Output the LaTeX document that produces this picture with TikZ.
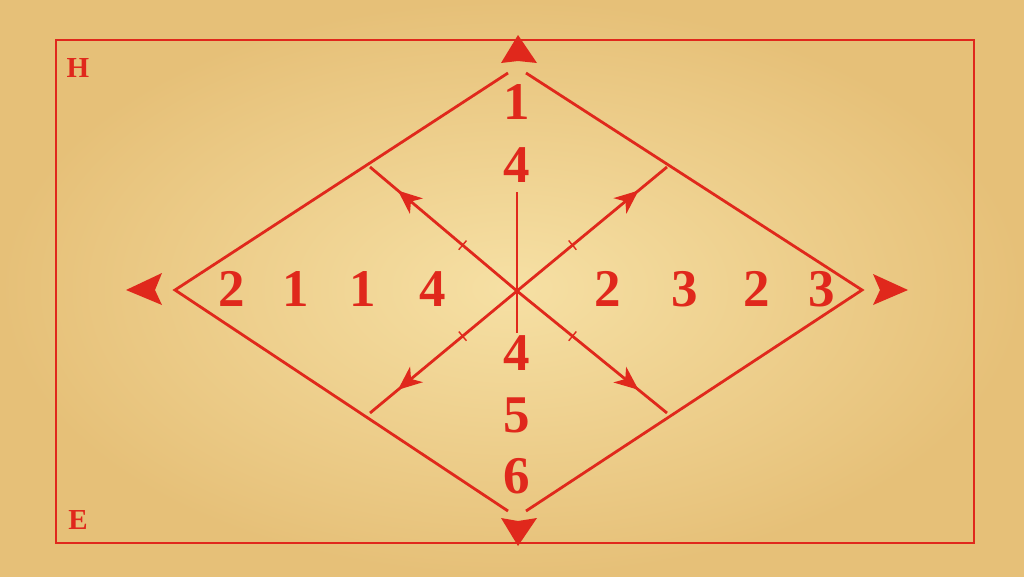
\documentclass[tikz,border=0pt]{standalone}
\usepackage{fontspec}
\setmainfont{Liberation Serif}
\usetikzlibrary{arrows.meta,decorations.markings}
\definecolor{ink}{RGB}{224,40,28}
\definecolor{paper}{RGB}{246,224,164}
\definecolor{paperedge}{RGB}{230,192,120}

\begin{document}
\begin{tikzpicture}[x=1pt,y=-1pt,
    num/.style={text=ink,font=\fontsize{53}{53}\selectfont\bfseries,inner sep=0pt},
    corner/.style={text=ink,font=\fontsize{29}{29}\selectfont\bfseries,inner sep=0pt},
    edge/.style={draw=ink,line width=2.8pt},
    ray/.style={edge,postaction={decorate},decoration={markings,
        mark=at position 0.37 with {\draw[ink,line width=1.4pt] (0,-6) -- (0,6);},
        mark=at position 0.81 with {\arrow[ink]{Stealth[length=24pt,width=20pt,inset=7pt]}}}},
    bigtip/.style={fill=ink},
]
\useasboundingbox (0,0) rectangle (1024,576);
\shade[inner color=paper,outer color=paperedge] (0,0) rectangle (1024,576);

% frame
\draw[ink,line width=2.4pt] (56,40) rectangle (974,543);
\node[corner] (markH) at (78,68) {H};
\node[corner] (markE) at (78,520) {E};

% diamond
\coordinate (L) at (175,290);
\coordinate (R) at (862,290);
\coordinate (TL) at (508,73);
\coordinate (TR) at (526,73);
\coordinate (BL) at (508,511);
\coordinate (BR) at (526,511);
\draw[edge] (TL) -- (L) -- (BL);
\draw[edge] (TR) -- (R) -- (BR);

% big tips
\fill[bigtip] (518,35) -- (537,63) -- (518,61) -- (501,63) -- cycle;
\fill[bigtip] (518,546) -- (501,518) -- (518,521) -- (537,518) -- cycle;
\fill[bigtip] (126,290) -- (162,273) -- (155,290) -- (162,305) -- cycle;
\fill[bigtip] (908,290) -- (873,274) -- (880,290) -- (873,305) -- cycle;

% centre and rays
\coordinate (C) at (517,291);
\coordinate (UL) at (370,167);
\coordinate (UR) at (667,167);
\coordinate (LL) at (370,413);
\coordinate (LR) at (667,413);
\coordinate (VT) at (517,192);
\coordinate (VB) at (517,333);
\draw[edge] (VT) -- (VB);
\draw[ray] (C) -- (UL);
\draw[ray] (C) -- (UR);
\draw[ray] (C) -- (LL);
\draw[ray] (C) -- (LR);

% numbers
\node[num] (top1) at (517,102) {1};
\node[num] (top4) at (517,165) {4};
\node[num] (left2) at (232,289) {2};
\node[num] (left1a) at (296,289) {1};
\node[num] (left1b) at (363,289) {1};
\node[num] (left4) at (433,289) {4};
\node[num] (right2a) at (608,289) {2};
\node[num] (right3a) at (685,289) {3};
\node[num] (right2b) at (757,289) {2};
\node[num] (right3b) at (822,289) {3};
\node[num] (bot4) at (517,353) {4};
\node[num] (bot5) at (517,415) {5};
\node[num] (bot6) at (517,476) {6};
\end{tikzpicture}
\end{document}
